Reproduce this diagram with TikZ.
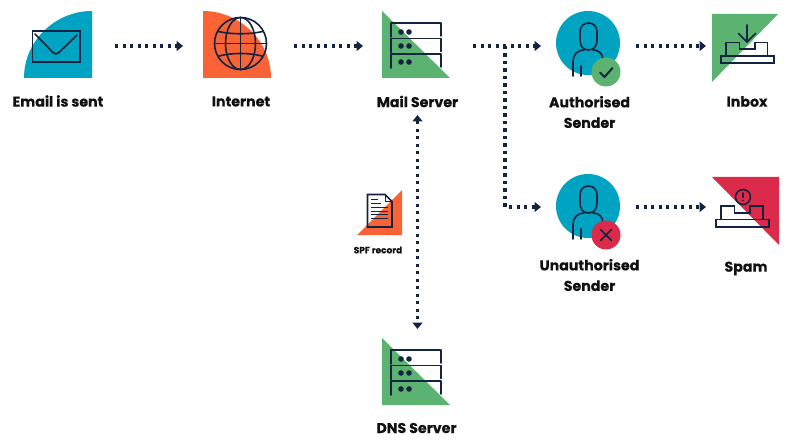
\documentclass[tikz,border=0pt]{standalone}
\usepackage{fontspec}
\setmainfont{Poppins}[BoldFont={* Bold},BoldFeatures={FakeBold=0.35}]
\usetikzlibrary{arrows.meta}
\definecolor{navy}{HTML}{14233F}
\definecolor{tealc}{HTML}{00A3C1}
\definecolor{orangec}{HTML}{F96335}
\definecolor{greenc}{HTML}{5CB270}
\definecolor{redc}{HTML}{DC2B4A}
\definecolor{inkc}{HTML}{111111}
\tikzset{
  x=1pt,y=-1pt,
  icon/.style={inner sep=0pt,outer sep=0pt,minimum width=#1,minimum height=64pt},
  lab/.style={font=\fontsize{14.2}{20.5}\selectfont\bfseries,text=inkc,align=center,inner sep=0pt},
  smalllab/.style={font=\fontsize{9}{10}\selectfont\bfseries,text=inkc,align=center,inner sep=0pt},
  glyph/.style={draw=navy,line width=1.6pt,line join=round,line cap=round},
  flow/.style={draw=navy,line width=3.1pt,dash pattern=on 3.1pt off 4.4pt,-{Triangle[length=6.5pt,width=10pt]}},
  flowtwo/.style={draw=navy,line width=3.1pt,dash pattern=on 3.1pt off 4.4pt,{Triangle[length=6.5pt,width=10pt]}-{Triangle[length=6.5pt,width=10pt]}},
}
\newcommand{\rackicon}{%
  \fill[greenc] (382,11) -- (382,78) -- (450,78) -- cycle;
  \foreach \ry in {23,38.5,54}{
    \draw[glyph] (391,\ry+14) -- (391,\ry) -- (441,\ry) -- (441,\ry+13);
  }
  \foreach \ry in {32,46,62}{
    \fill[navy] (401,\ry) circle[radius=2.8];
    \fill[navy] (409,\ry) circle[radius=2.8];
  }
}
\newcommand{\personicon}{%
  \fill[tealc] (588,43) circle[radius=32];
  \draw[glyph] (588.5,23) .. controls (594,23) and (597,27) .. (597,32)
     -- (597,40) .. controls (597,46) and (594,50) .. (588.5,50)
     .. controls (583,50) and (580,46) .. (580,40) -- (580,32)
     .. controls (580,27) and (583,23) .. (588.5,23) -- cycle;
  \draw[glyph] (573,76) -- (573,62) .. controls (573,54) and (578,50) .. (584,50);
  \draw[glyph] (593,50) .. controls (598,50) and (603,53) .. (603,60);
  \draw[glyph] (581,66) -- (581,76);
}
\begin{document}
\begin{tikzpicture}
\useasboundingbox (0,0) rectangle (794,446);

% email icon
\fill[tealc] (92,11) -- (92,78) -- (24,78) .. controls (24,41) and (55,11) .. (92,11) -- cycle;
\draw[glyph,line cap=butt,line join=miter] (32.5,31) rectangle (80,62);
\draw[glyph] (35,34) -- (53,52.5) .. controls (55,54.5) and (57,54.5) .. (59,52.5) -- (77,35);
\node[icon=68pt] (email) at (58,46) {};
\node[lab] (emaillab) at (58,101) {Email is sent};

% internet icon
\fill[orangec] (203,11) -- (203,78) -- (271,78) .. controls (271,41) and (240,11) .. (203,11) -- cycle;
\begin{scope}
  \clip (240.5,43.5) circle[radius=26];
  \draw[glyph] (213,30) .. controls (228,35) and (253,35) .. (268,30);
  \draw[glyph] (213,58) .. controls (228,52) and (253,52) .. (268,58);
\end{scope}
\draw[glyph] (240.5,43.5) circle[radius=26];
\draw[glyph] (240.5,43.5) ellipse[x radius=15,y radius=26];
\draw[glyph] (214.5,43.5) -- (266.5,43.5);
\draw[glyph] (240.5,17.5) -- (240.5,69.5);
\node[icon=68pt] (internet) at (237,46) {};
\node[lab] (internetlab) at (241,101.5) {Internet};

% mail server
\rackicon
\node[icon=68pt] (mail) at (416,46) {};
\node[lab] (maillab) at (417.5,101.5) {Mail Server};

% DNS
\begin{scope}[shift={(0,327)}]
  \rackicon
\end{scope}
\node[icon=68pt,minimum height=68pt] (dns) at (416,371) {};
\node[lab] (dnslab) at (416.5,428) {DNS Server};

% authorised
\personicon
\fill[greenc] (606,72) circle[radius=14.5];
\draw[glyph,line width=2pt] (600,72.5) -- (604.5,77) -- (612.5,68);
\node[icon=64pt] (auth) at (588,46) {};
\node[lab] (authlab) at (589.5,112) {Authorised\\Sender};

% unauthorised
\begin{scope}[shift={(0,163)}]
  \personicon
  \fill[redc] (606,72) circle[radius=14.5];
  \draw[glyph] (600.5,66.5) -- (611.5,77.5);
  \draw[glyph] (611.5,66.5) -- (600.5,77.5);
\end{scope}
\node[icon=64pt] (unauth) at (588,207) {};
\node[lab] (unauthlab) at (589.5,275) {Unauthorised\\Sender};

% inbox
\fill[greenc] (712,14) -- (778,14) -- (712,82) -- cycle;
\draw[glyph,line cap=butt,line join=miter] (721,56) rectangle (774,63);
\draw[glyph,line cap=butt,line join=miter] (726,56) -- (726,42.5) -- (739.5,42.5) -- (739.5,49) -- (755,49) -- (755,42.5) -- (767.5,42.5) -- (767.5,56);
\draw[glyph] (747,25) -- (747,42);
\draw[glyph] (738.5,33.5) -- (747,42) -- (755.5,33.5);
\node[icon=66pt] (inbox) at (745,46) {};
\node[lab] (inboxlab) at (747,101.5) {Inbox};

% spam
\fill[redc] (712,177) -- (779,177) -- (779,245) -- cycle;
\draw[glyph,line cap=butt,line join=miter] (716,219.5) rectangle (769,227);
\draw[glyph,line cap=butt,line join=miter] (721,219.5) -- (721,206) -- (734.5,206) -- (734.5,213) -- (750,213) -- (750,206) -- (763,206) -- (763,219.5);
\draw[glyph] (743,197) circle[radius=7.5];
\draw[glyph] (743,193) -- (743,197.5);
\fill[navy] (743,200.5) circle[radius=0.9];
\node[icon=66pt] (spam) at (745,207) {};
\node[lab] (spamlab) at (746,268.5) {Spam};

% SPF record
\fill[orangec] (357,235) -- (402,235) -- (402,190) -- cycle;
\draw[glyph,line cap=butt,line join=miter] (367.5,194.5) -- (385,194.5) -- (392,201.5) -- (392,227) -- (367.5,227) -- cycle;
\draw[glyph,line width=1pt,line cap=butt] (385,194.5) -- (385,201.5) -- (392,201.5);
\foreach \ly/\lx in {199/378,203/381,207/388,211/388,214.5/388,218/388}{
  \draw[navy,line width=0.8pt] (371,\ly) -- (\lx,\ly);
}
\node[icon=45pt,minimum height=45pt] (spf) at (379.5,212.5) {};
\node[smalllab] (spflab) at (378,250) {SPF record};

% connectors
\coordinate (branch) at (505,46);
\draw[flow,shorten <=23pt,shorten >=20pt] (email.east) -- (internet.west);
\draw[flow,shorten <=23pt,shorten >=19pt] (internet.east) -- (mail.west);
\draw[flow,shorten <=23pt,shorten >=15pt] (mail.east) -- (auth.west);
\draw[flow,shorten <=16pt,shorten >=6pt] (auth.east) -- (inbox.west);
\draw[flow,shorten >=15pt] (branch) |- (unauth.west);
\draw[flow,shorten <=16pt,shorten >=6pt] (unauth.east) -- (spam.west);
\coordinate (mailbottom) at (417.5,108);
\coordinate (dnstop) at (417.5,337);
\draw[flowtwo,shorten <=7pt,shorten >=8pt] (mailbottom) -- (dnstop);
\end{tikzpicture}
\end{document}
